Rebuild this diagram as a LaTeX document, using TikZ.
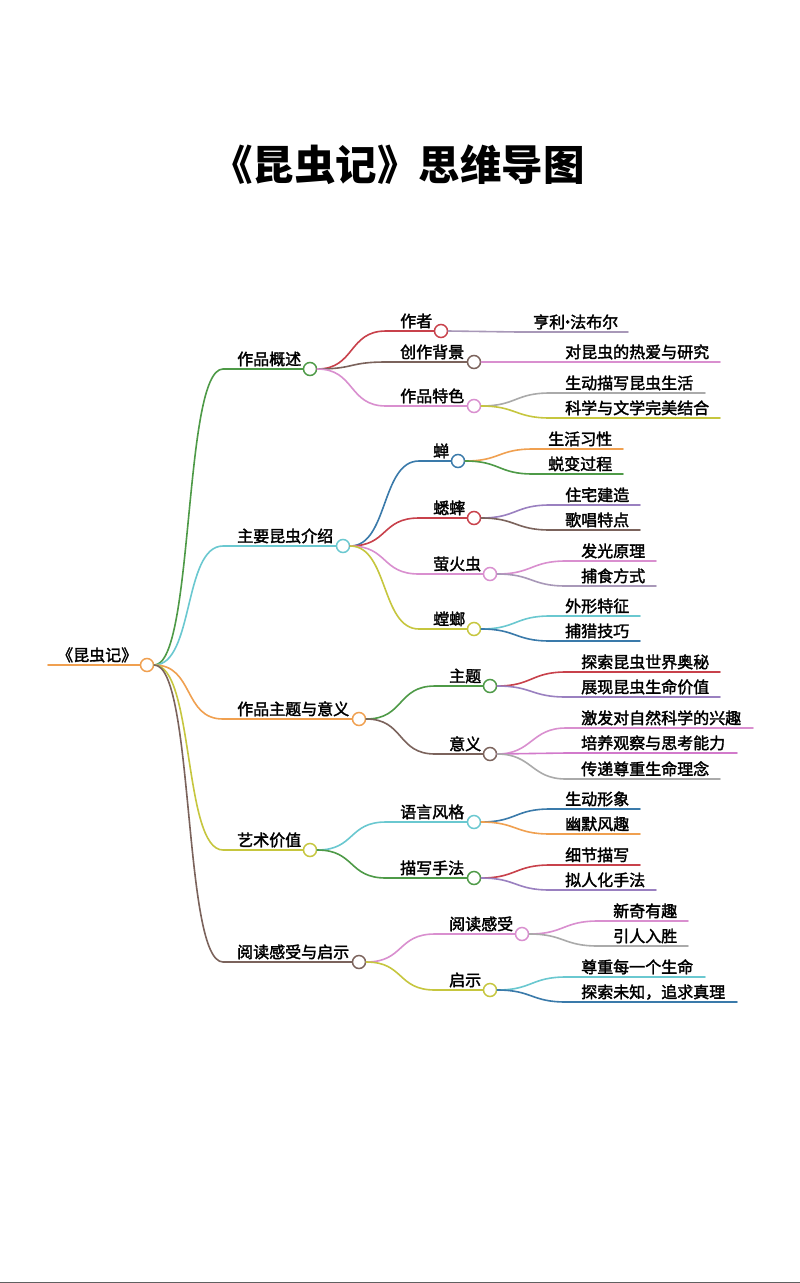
\documentclass[tikz,border=0pt]{standalone}
\usepackage{fontspec}
\newfontfamily\cjk[FakeBold=2]{Noto Sans CJK SC}
\newfontfamily\tfont{Noto Sans CJK SC}
\definecolor{cred}{HTML}{C8414B}
\definecolor{cbrown}{HTML}{7B635C}
\definecolor{cpink}{HTML}{D98FCF}
\definecolor{cmag}{HTML}{D27ACB}
\definecolor{cgreen}{HTML}{4E9A47}
\definecolor{ccyan}{HTML}{6AC8D0}
\definecolor{corange}{HTML}{F0A050}
\definecolor{cyg}{HTML}{C6C63E}
\definecolor{cblue}{HTML}{3A7AAA}
\definecolor{cpurple}{HTML}{9A80C0}
\definecolor{cgray}{HTML}{AAAAAA}
\definecolor{cpg}{HTML}{A898B8}
\definecolor{cbottom}{HTML}{606060}
\tikzset{
  dot/.style={circle, draw, fill=white, minimum size=13pt, inner sep=0pt, line width=1.5pt},
  lbl/.style={anchor=base west, inner sep=0pt, font=\cjk\fontsize{16}{16}\selectfont},
  edge/.style={line width=1.6pt, line cap=round},
}
% #1 id, #2 parent, #3 colour, #4 text x, #5 line y, #6 circle x, #7 text, #8 control
\newcommand\midnode[8]{%
  \node[dot,draw=#3] (#1) at (#6,#5) {};
  \node[lbl] (#1t) at (#4,#5-4) {#7};
  \coordinate (#1s) at (#4-14,#5);
  \draw[edge,#3] (#2.east) .. controls +(#8,0) and +(-#8,0) .. (#1s) -- (#1.west);
}
% #1 id, #2 parent, #3 colour, #4 text x, #5 line y, #6 end x, #7 text
\newcommand\leafnode[7]{%
  \node[lbl] (#1) at (#4,#5-4) {#7};
  \coordinate (#1s) at (#4-15,#5);
  \coordinate (#1e) at (#6,#5);
  \draw[edge,#3] (#2.east) .. controls +(35,0) and +(-35,0) .. (#1s) -- (#1e);
}
\begin{document}
\begin{tikzpicture}[x=1pt,y=-1pt]
\useasboundingbox (0,0) rectangle (800,1283);
\fill[white] (0,0) rectangle (800,1283);
\fill[cbottom] (0,1281.5) rectangle (800,1283);

\node[anchor=base, inner sep=0pt, font=\tfont\bfseries\fontsize{41.5}{41.5}\selectfont] (title) at (398,180) {《昆虫记》思维导图};

% root
\node[dot,draw=corange] (c0) at (147,665) {};
\node[lbl] (c0t) at (57,661) {《昆虫记》};
\coordinate (c0s) at (48,665);
\draw[edge,corange] (c0s) -- (c0.west);

% level 1
\midnode{A}{c0}{cgreen}{237}{369}{310}{作品概述}{40}
\midnode{B}{c0}{ccyan}{237}{546}{343}{主要昆虫介绍}{40}
\midnode{C}{c0}{corange}{237}{719}{359}{作品主题与意义}{40}
\midnode{D}{c0}{cyg}{237}{850}{310}{艺术价值}{40}
\midnode{E}{c0}{cbrown}{237}{962}{359}{阅读感受与启示}{40}

% level 2
\midnode{A1}{A}{cred}{400}{331}{441}{作者}{38}
\midnode{A2}{A}{cbrown}{400}{362}{474}{创作背景}{38}
\midnode{A3}{A}{cpink}{400}{406}{474}{作品特色}{38}
\midnode{B1}{B}{cblue}{433}{461}{458}{蝉}{38}
\midnode{B2}{B}{cred}{433}{518}{474}{蟋蟀}{38}
\midnode{B3}{B}{cpink}{433}{574}{490}{萤火虫}{38}
\midnode{B4}{B}{cyg}{433}{629}{474}{螳螂}{38}
\midnode{C1}{C}{cgreen}{449}{686}{490}{主题}{38}
\midnode{C2}{C}{cbrown}{449}{754}{490}{意义}{38}
\midnode{D1}{D}{ccyan}{400}{822}{474}{语言风格}{38}
\midnode{D2}{D}{cgreen}{400}{878}{474}{描写手法}{38}
\midnode{E1}{E}{cpink}{449}{934}{522}{阅读感受}{38}
\midnode{E2}{E}{cyg}{449}{990}{490}{启示}{38}

% level 3
\leafnode{A1a}{A1}{cpg}{533}{332}{628}{亨利\makebox[5pt][c]{·}法布尔}
\leafnode{A2a}{A2}{cpink}{565}{362}{720}{对昆虫的热爱与研究}
\leafnode{A3a}{A3}{cgray}{565}{393}{705}{生动描写昆虫生活}
\leafnode{A3b}{A3}{cyg}{565}{418}{720}{科学与文学完美结合}
\leafnode{B1a}{B1}{corange}{548}{449}{623}{生活习性}
\leafnode{B1b}{B1}{cgreen}{548}{474}{623}{蜕变过程}
\leafnode{B2a}{B2}{cpurple}{565}{505}{640}{住宅建造}
\leafnode{B2b}{B2}{cbrown}{565}{530}{640}{歌唱特点}
\leafnode{B3a}{B3}{cpink}{581}{561}{656}{发光原理}
\leafnode{B3b}{B3}{cpg}{581}{586}{656}{捕食方式}
\leafnode{B4a}{B4}{ccyan}{565}{616}{640}{外形特征}
\leafnode{B4b}{B4}{cblue}{565}{641}{640}{捕猎技巧}
\leafnode{C1a}{C1}{cred}{581}{672}{720}{探索昆虫世界奥秘}
\leafnode{C1b}{C1}{cpurple}{581}{697}{720}{展现昆虫生命价值}
\leafnode{C2a}{C2}{cpink}{581}{728}{753}{激发对自然科学的兴趣}
\leafnode{C2b}{C2}{cmag}{581}{753}{737}{培养观察与思考能力}
\leafnode{C2c}{C2}{cgray}{581}{779}{720}{传递尊重生命理念}
\leafnode{D1a}{D1}{cblue}{565}{809}{640}{生动形象}
\leafnode{D1b}{D1}{corange}{565}{834}{640}{幽默风趣}
\leafnode{D2a}{D2}{cred}{565}{865}{640}{细节描写}
\leafnode{D2b}{D2}{cpurple}{565}{890}{656}{拟人化手法}
\leafnode{E1a}{E1}{cpink}{613}{921}{688}{新奇有趣}
\leafnode{E1b}{E1}{cgray}{613}{946}{688}{引人入胜}
\leafnode{E2a}{E2}{ccyan}{581}{977}{705}{尊重每一个生命}
\leafnode{E2b}{E2}{cblue}{581}{1002}{737}{探索未知，追求真理}
\end{tikzpicture}
\end{document}
